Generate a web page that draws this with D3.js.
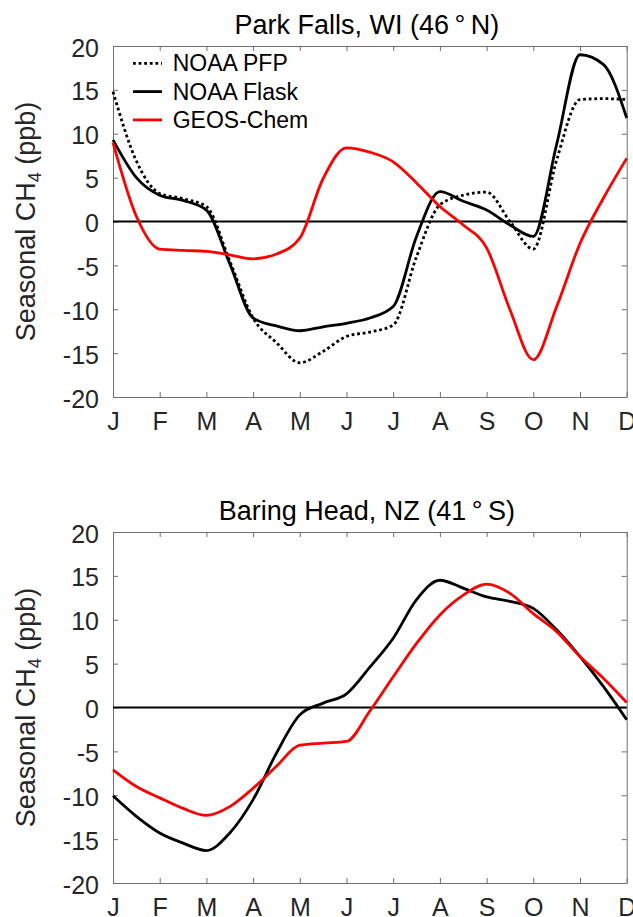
<!DOCTYPE html>
<html>
<head>
<meta charset="utf-8">
<script src="https://cdn.jsdelivr.net/npm/d3@7"></script>
<style>
  body { margin: 0; background: #fff; }
  svg { display: block; font-family: "Liberation Sans", Arial, Helvetica, sans-serif; }
</style>
</head>
<body>
<svg id="chart" width="633" height="917"></svg>
<script>
// month labels and y ticks
var months = ["J", "F", "M", "A", "M", "J", "J", "A", "S", "O", "N", "D"];
var yTicks = [-20, -15, -10, -5, 0, 5, 10, 15, 20];

// sample positions, in months from Jan (0) to Dec (11), every half month
var monthPos = [0, 0.5, 1, 1.5, 2, 2.5, 3, 3.5, 4, 4.5, 5, 5.5, 6, 6.5, 7, 7.5, 8, 8.5, 9, 9.5, 10, 10.5, 11];

// Park Falls, WI
var pfPfp   = [14.8, 6.9, 3.2, 2.6, 1.7, -4.5, -11.0, -13.8, -16.1, -14.8, -13.1, -12.6, -11.8, -4.0, 1.9, 3.0, 3.35, 0.0, -3.15, 7.0, 13.9, 14.0, 13.9];
var pfFlask = [9.3, 5.0, 3.0, 2.4, 1.3, -4.8, -11.0, -11.9, -12.45, -12.0, -11.6, -11.0, -9.7, -1.7, 3.4, 2.3, 1.3, -0.4, -1.7, 8.8, 19.0, 17.9, 11.8];
var pfGeos  = [9.0, 0.6, -3.15, -3.3, -3.4, -3.8, -4.25, -3.7, -1.9, 4.9, 8.4, 7.9, 6.8, 4.4, 1.7, -0.4, -3.0, -10.05, -15.75, -9.7, -2.5, 2.65, 7.2];

// Baring Head, NZ
var bhFlask = [-10.06, -12.4, -14.3, -15.45, -16.3, -14.3, -10.5, -5.2, -0.84, 0.5, 1.56, 4.6, 7.9, 12.3, 14.5, 13.6, 12.6, 12.1, 11.3, 8.85, 5.8, 2.4, -1.4];
var bhGeos  = [-7.1, -9.0, -10.3, -11.5, -12.3, -11.3, -9.2, -6.7, -4.3, -4.06, -3.87, -0.4, 3.5, 7.3, 10.55, 12.8, 14.05, 13.0, 10.7, 8.65, 5.8, 3.34, 0.57];

var legendNames = ["NOAA PFP", "NOAA Flask", "GEOS-Chem"];

var plotLeft = 113, plotRight = 626.7, plotH = 351;
var axisColor = "#6e6e6e", textColor = "#262626";

var svg = d3.select("#chart");

var styles = {
    pfp:   { stroke: "#000", width: 2.8, dash: "2.8,2.8" },
    flask: { stroke: "#000", width: 2.8, dash: null },
    geos:  { stroke: "#ff0000", width: 2.8, dash: null }
};

function drawPanel(top, title, series, withLegend) {
    var g = svg.append("g");

    var x = d3.scaleLinear().domain([0, 11]).range([plotLeft, plotRight]);
    var y = d3.scaleLinear().domain([-20, 20]).range([top + plotH, top]);

    // box axes with inward ticks
    var gl = g.append("g").attr("transform", "translate(" + plotLeft + ",0)")
        .call(d3.axisLeft(y).tickValues(yTicks).tickFormat(function(d) { return String(d); })
            .tickSizeInner(-5).tickSizeOuter(0).tickPadding(14));
    gl.selectAll("text").attr("dy", "0.4em");

    var gr = g.append("g").attr("transform", "translate(" + plotRight + ",0)")
        .call(d3.axisRight(y).tickValues(yTicks).tickSizeInner(-5).tickSizeOuter(0).tickFormat(""));

    var gb = g.append("g").attr("transform", "translate(0," + (top + plotH) + ")")
        .call(d3.axisBottom(x).tickValues(d3.range(12)).tickFormat(function(i) { return months[i]; })
            .tickSizeInner(-5).tickSizeOuter(0).tickPadding(15));

    var gt = g.append("g").attr("transform", "translate(0," + top + ")")
        .call(d3.axisTop(x).tickValues(d3.range(12)).tickSizeInner(-5).tickSizeOuter(0).tickFormat(""));

    [gl, gr, gb, gt].forEach(function(a) {
        a.selectAll("path, line").attr("stroke", axisColor);
        a.selectAll("text").attr("fill", textColor).style("font-size", "25px");
        a.attr("font-family", null).attr("font-size", null);
    });

    // zero line
    g.append("line")
        .attr("x1", x(0)).attr("x2", x(11))
        .attr("y1", y(0)).attr("y2", y(0))
        .attr("stroke", "#000").attr("stroke-width", 2);

    var line = d3.line()
        .x(function(d) { return x(d[0]); })
        .y(function(d) { return y(d[1]); })
        .curve(d3.curveMonotoneX);

    series.forEach(function(s) {
        var st = styles[s.key];
        g.append("path")
            .datum(monthPos.map(function(m, i) { return [m, s.values[i]]; }))
            .attr("fill", "none")
            .attr("stroke", st.stroke)
            .attr("stroke-width", st.width)
            .attr("stroke-dasharray", st.dash)
            .attr("d", line);
    });

    // title
    g.append("text")
        .attr("x", (plotLeft + plotRight) / 2 - 3)
        .attr("y", top - 12)
        .attr("text-anchor", "middle")
        .style("font-size", "27px")
        .attr("fill", "#000")
        .text(title);

    // y label
    var yl = g.append("text")
        .attr("transform", "translate(35," + (top + plotH / 2) + ") rotate(-90)")
        .attr("text-anchor", "middle")
        .attr("fill", textColor)
        .style("font-size", "27px");
    yl.append("tspan").text("Seasonal CH");
    yl.append("tspan").attr("dy", 6).style("font-size", "18px").text("4");
    yl.append("tspan").attr("dy", -6).text(" (ppb)");

    if (withLegend) {
        var keys = ["pfp", "flask", "geos"];
        keys.forEach(function(k, i) {
            var ly = top + 17.3 + i * 28.3;
            var st = styles[k];
            g.append("line")
                .attr("x1", 133).attr("x2", 162)
                .attr("y1", ly).attr("y2", ly)
                .attr("stroke", st.stroke)
                .attr("stroke-width", st.width)
                .attr("stroke-dasharray", st.dash);
            g.append("text")
                .attr("x", 172.7).attr("y", ly + 8)
                .attr("fill", "#000")
                .style("font-size", "23px")
                .text(legendNames[i]);
        });
    }
}

drawPanel(46, "Park Falls, WI (46\u2009°\u2009N)", [
    { key: "pfp", values: pfPfp },
    { key: "flask", values: pfFlask },
    { key: "geos", values: pfGeos }
], true);

drawPanel(532, "Baring Head, NZ (41\u2009°\u2009S)", [
    { key: "flask", values: bhFlask },
    { key: "geos", values: bhGeos }
], false);
</script>
</body>
</html>
